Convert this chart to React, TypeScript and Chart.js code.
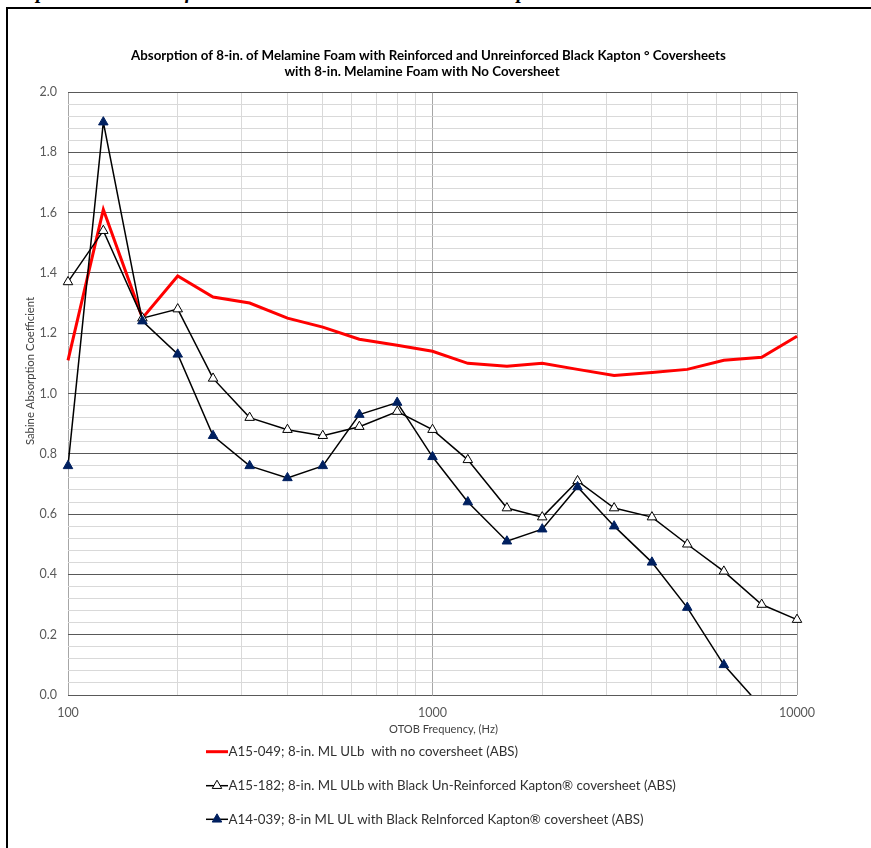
import React, { useEffect, useRef } from "react";
import { Chart, registerables } from "chart.js";

Chart.register(...registerables);

const frequencies = [100, 125, 160, 200, 250, 315, 400, 500, 630, 800, 1000, 1250, 1600, 2000, 2500, 3150, 4000, 5000, 6300, 8000, 10000];
const noCoversheet = [1.11, 1.61, 1.25, 1.39, 1.32, 1.30, 1.25, 1.22, 1.18, 1.16, 1.14, 1.10, 1.09, 1.10, 1.08, 1.06, 1.07, 1.08, 1.11, 1.12, 1.19];
const unreinforced = [1.37, 1.54, 1.25, 1.28, 1.05, 0.92, 0.88, 0.86, 0.89, 0.94, 0.88, 0.78, 0.62, 0.59, 0.71, 0.62, 0.59, 0.50, 0.41, 0.30, 0.25];
const reinforced: (number | null)[] = [0.76, 1.90, 1.24, 1.13, 0.86, 0.76, 0.72, 0.76, 0.93, 0.97, 0.79, 0.64, 0.51, 0.55, 0.69, 0.56, 0.44, 0.29, 0.10, -0.04, null];

const seriesLabels = [
  "A15-049; 8-in. ML ULb  with no coversheet (ABS)",
  "A15-182; 8-in. ML ULb with Black Un-Reinforced Kapton\u00ae coversheet (ABS)",
  "A14-039; 8-in ML UL with Black ReInforced Kapton\u00ae coversheet (ABS)",
];
const titleLines = [
  "Absorption of 8-in. of Melamine Foam with Reinforced and Unreinforced Black Kapton \u00b0 Coversheets",
  "with 8-in. Melamine Foam with No Coversheet",
];
const xAxisTitle = "OTOB Frequency, (Hz)";
const yAxisTitle = "Sabine Absorption Coefficient";
const headerText = "Graph 4. Test Results for 8-in. Melamine Foam with Black Kapton Coversheets and with No Coversheet";

const xTickValues = [100, 200, 300, 400, 500, 600, 700, 800, 900, 1000, 2000, 3000, 4000, 5000, 6000, 7000, 8000, 9000, 10000];
const xLabelValues = [100, 1000, 10000];
const yTickValues = Array.from({ length: 51 }, (_, i) => Math.round(i * 4) / 100);

const FONT = 'Lato, "Noto Sans", sans-serif';

function fitSize(text: string, weight: string, target: number): number {
  const c = document.createElement("canvas");
  const ctx = c.getContext("2d")!;
  ctx.font = `${weight} 100px ${FONT}`;
  const w = ctx.measureText(text).width;
  return Math.round((100 * target / w) * 10) / 10;
}

const isMajorY = (v: number) => Math.abs(v * 5 - Math.round(v * 5)) < 1e-6;

export default function App() {
  const ref = useRef<HTMLCanvasElement | null>(null);

  useEffect(() => {
    if (!ref.current) return;
    const tickSize = fitSize("1000", "normal", 29);
    const titleSize = fitSize(titleLines[0], "bold", 596);
    const legendSize = fitSize(seriesLabels[0], "normal", 289);
    const xTitleSize = fitSize(xAxisTitle, "normal", 109);
    const yTitleSize = fitSize(yAxisTitle, "normal", 148);

    const drawTriangle = (ctx: CanvasRenderingContext2D, x: number, y: number, r: number, fill: string, stroke: string) => {
      const s = Math.sin(Math.PI / 3) * r;
      ctx.beginPath();
      ctx.moveTo(x, y - r);
      ctx.lineTo(x + s, y + r / 2);
      ctx.lineTo(x - s, y + r / 2);
      ctx.closePath();
      ctx.fillStyle = fill;
      ctx.fill();
      ctx.lineWidth = 1;
      ctx.strokeStyle = stroke;
      ctx.stroke();
    };

    const textPlugin = {
      id: "textPlugin",
      afterDraw(chart: any) {
        const ctx: CanvasRenderingContext2D = chart.ctx;
        ctx.save();
        // chart title
        ctx.fillStyle = "#000000";
        ctx.font = `bold ${titleSize}px ${FONT}`;
        ctx.textAlign = "center";
        ctx.textBaseline = "alphabetic";
        ctx.fillText(titleLines[0], 428.5, 60);
        ctx.fillText(titleLines[1], 422, 76);
        // axis titles
        ctx.fillStyle = "#404040";
        ctx.font = `normal ${xTitleSize}px ${FONT}`;
        ctx.textBaseline = "middle";
        ctx.fillText(xAxisTitle, 443.5, 729);
        ctx.save();
        ctx.translate(30, 371);
        ctx.rotate(-Math.PI / 2);
        ctx.font = `normal ${yTitleSize}px ${FONT}`;
        ctx.fillText(yAxisTitle, 0, 0);
        ctx.restore();
        // legend
        const rows = [751.7, 785.7, 819.3];
        chart.data.datasets.forEach((ds: any, i: number) => {
          const y = rows[i];
          ctx.beginPath();
          ctx.moveTo(206, y);
          ctx.lineTo(228, y);
          ctx.strokeStyle = ds.borderColor;
          ctx.lineWidth = ds.borderWidth;
          ctx.stroke();
          if (ds.pointRadius > 0) {
            drawTriangle(ctx, 217, y, ds.pointRadius, ds.pointBackgroundColor, ds.pointBorderColor);
          }
          ctx.fillStyle = "#303030";
          ctx.font = `normal ${legendSize}px ${FONT}`;
          ctx.textAlign = "left";
          ctx.textBaseline = "middle";
          ctx.fillText(ds.label, 228.5, y);
        });
        ctx.restore();
      },
    };

    const toPoints = (vals: (number | null)[]) => frequencies.map((f, i) => ({ x: f, y: vals[i] }));

    const chart = new Chart(ref.current, {
      type: "line",
      data: {
        datasets: [
          {
            label: seriesLabels[0],
            data: toPoints(noCoversheet),
            borderColor: "#ff0000",
            borderWidth: 3,
            pointRadius: 0,
            pointBackgroundColor: "#ff0000",
            pointBorderColor: "#ff0000",
            tension: 0,
            order: 2,
            clip: { left: 10, right: 10, top: 10, bottom: 0 },
          },
          {
            label: seriesLabels[1],
            data: toPoints(unreinforced),
            borderColor: "#000000",
            borderWidth: 1.5,
            pointStyle: "triangle",
            pointRadius: 5.5,
            pointBackgroundColor: "#ffffff",
            pointBorderColor: "#000000",
            pointBorderWidth: 1,
            tension: 0,
            order: 1,
            clip: { left: 10, right: 10, top: 10, bottom: 0 },
          },
          {
            label: seriesLabels[2],
            data: toPoints(reinforced),
            borderColor: "#000000",
            borderWidth: 1.5,
            pointStyle: "triangle",
            pointRadius: 5.5,
            pointBackgroundColor: "#002060",
            pointBorderColor: "#002060",
            pointBorderWidth: 1,
            tension: 0,
            order: 0,
            clip: { left: 10, right: 10, top: 10, bottom: 0 },
          },
        ],
      } as any,
      options: {
        responsive: false,
        animation: false,
        devicePixelRatio: 1,
        events: [],
        layout: { padding: { left: 0, top: 92, right: 74, bottom: 113 } },
        plugins: {
          legend: { display: false },
          title: { display: false },
          tooltip: { enabled: false },
        },
        scales: {
          x: {
            type: "logarithmic",
            min: 100,
            max: 10000,
            afterBuildTicks: (s: any) => {
              s.ticks = xTickValues.map((v) => ({ value: v }));
            },
            afterFit: (s: any) => {
              s.height = 40;
            },
            ticks: {
              autoSkip: false,
              maxRotation: 0,
              minRotation: 0,
              padding: 10,
              color: "#595959",
              font: { family: FONT, size: tickSize },
              callback: (v: any) => (xLabelValues.includes(Number(v)) ? String(v) : ""),
            },
            grid: {
              drawTicks: false,
              lineWidth: 1,
              color: (c: any) => (c.tick && xLabelValues.includes(c.tick.value) ? "#a6a6a6" : "#d9d9d9"),
            },
            border: { display: false },
          },
          y: {
            type: "linear",
            min: 0,
            max: 2,
            afterBuildTicks: (s: any) => {
              s.ticks = yTickValues.map((v) => ({ value: v }));
            },
            afterFit: (s: any) => {
              s.width = 68;
            },
            ticks: {
              autoSkip: false,
              padding: 11,
              color: "#595959",
              font: { family: FONT, size: tickSize },
              callback: (v: any) => (isMajorY(Number(v)) ? Number(v).toFixed(1) : ""),
            },
            grid: {
              drawTicks: false,
              lineWidth: 1,
              color: (c: any) => (c.tick && isMajorY(c.tick.value) ? "#595959" : "#d9d9d9"),
            },
            border: { display: false },
          },
        },
      } as any,
      plugins: [textPlugin],
    });
    return () => chart.destroy();
  }, []);

  return (
    <div style={{ position: "absolute", left: 0, top: 0, width: 871, height: 848, overflow: "hidden", background: "#ffffff" }}>
      <div
        style={{
          position: "absolute",
          left: 4,
          top: -19,
          whiteSpace: "nowrap",
          fontFamily: '"Liberation Serif", serif',
          fontStyle: "italic",
          fontWeight: "bold",
          fontSize: 20,
          lineHeight: "20px",
          color: "#000",
        }}
      >
        {headerText}
      </div>
      <div
        style={{
          position: "absolute",
          left: 6,
          top: 7,
          width: 1000,
          height: 1000,
          border: "2px solid #000",
          boxSizing: "border-box",
        }}
      />
      <canvas ref={ref} width={871} height={848} style={{ position: "absolute", left: 0, top: 0, width: 871, height: 848 }} />
    </div>
  );
}
